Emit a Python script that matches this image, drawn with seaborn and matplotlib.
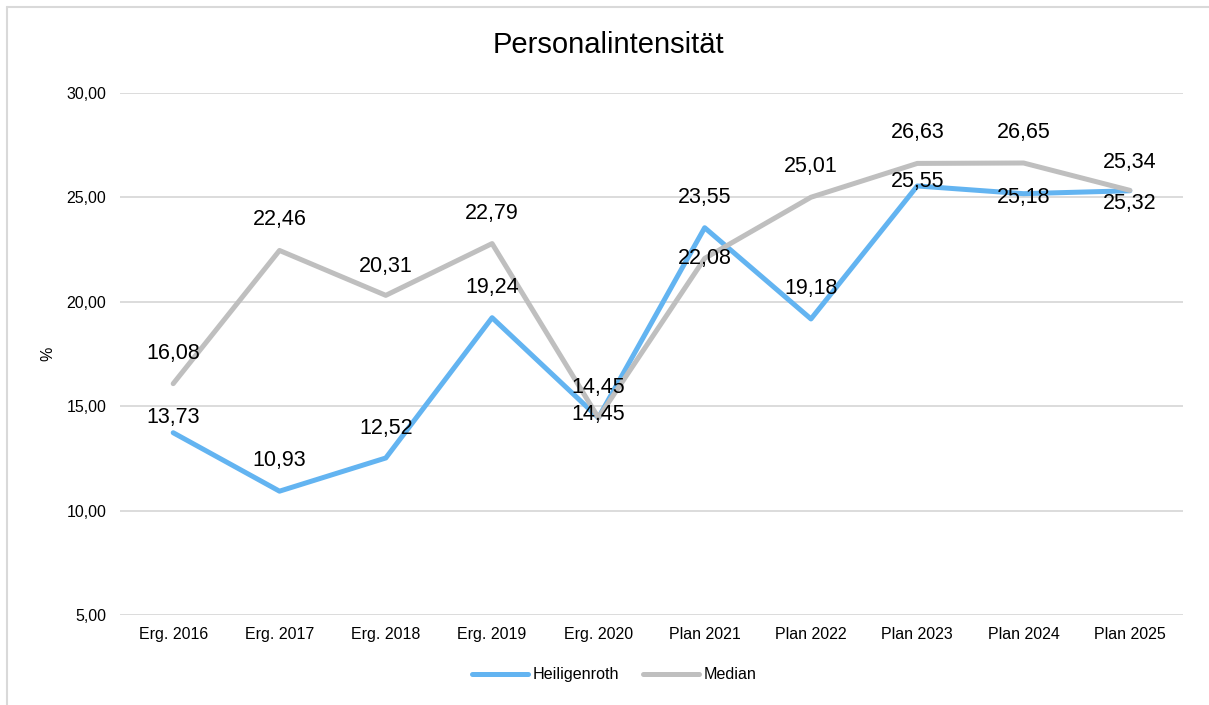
import pandas as pd
import seaborn as sns
import matplotlib.pyplot as plt
from matplotlib.lines import Line2D

# Werte aus dem Diagramm
jahre = ['Erg. 2016', 'Erg. 2017', 'Erg. 2018', 'Erg. 2019', 'Erg. 2020',
         'Plan 2021', 'Plan 2022', 'Plan 2023', 'Plan 2024', 'Plan 2025']
heiligenroth = [13.73, 10.93, 12.52, 19.24, 14.45, 23.55, 19.18, 25.55, 25.18, 25.32]
median = [16.08, 22.46, 20.31, 22.79, 14.45, 22.08, 25.01, 26.63, 26.65, 25.34]

# Versatz der Beschriftungen in Punkt (wie Excel sie verschoben hat)
off_h = [11, 22, 21, 22, 2, 22, 22, 3, -3, -9]
off_m = [22, 22, 21, 22, 22, 0, 22, 22, 22, 20]

df = pd.DataFrame({
    'Jahr': jahre * 2,
    'Wert': heiligenroth + median,
    'Reihe': ['Heiligenroth'] * len(jahre) + ['Median'] * len(jahre),
})

sns.set_style('white')
plt.rcParams['font.family'] = ['Liberation Sans', 'DejaVu Sans']
plt.rcParams['text.color'] = 'black'

fig = plt.figure(figsize=(12.09, 7.05), dpi=100)
ax = fig.add_axes([0.0993, 0.1277, 0.8792, 0.7403])

farben = {'Heiligenroth': '#63B4F1', 'Median': '#BFBFBF'}
sns.lineplot(data=df, x='Jahr', y='Wert', hue='Reihe', palette=farben,
             linewidth=3.6, sort=False, ax=ax, legend=True,
             solid_capstyle='round')

# Datenbeschriftungen
for i, (h, m) in enumerate(zip(heiligenroth, median)):
    ax.annotate(f'{m:.2f}'.replace('.', ','), (i, m), xytext=(0, off_m[i]),
                textcoords='offset points', ha='center', va='center', fontsize=15.5)
    ax.annotate(f'{h:.2f}'.replace('.', ','), (i, h), xytext=(0, off_h[i]),
                textcoords='offset points', ha='center', va='center', fontsize=15.5)

ax.set_ylim(5, 30)
ax.set_xlim(-0.5, len(jahre) - 0.5)
ax.set_yticks([5, 10, 15, 20, 25, 30])
ax.set_yticklabels([f'{v:.2f}'.replace('.', ',') for v in [5, 10, 15, 20, 25, 30]])
ax.yaxis.grid(True, color='#D9D9D9', linewidth=1.3)
ax.set_axisbelow(True)
for s in ax.spines.values():
    s.set_visible(False)
ax.tick_params(axis='both', length=0, labelsize=11.5, colors='black')
ax.tick_params(axis='x', pad=9)
ax.tick_params(axis='y', pad=10)
ax.set_xlabel('')
ax.set_ylabel('%', fontsize=11.5, labelpad=8, color='black')

# Titel mittig über dem ganzen Diagramm
fig.text(608 / 1209, 1 - 45 / 705, 'Personalintensität', fontsize=21,
         ha='center', va='center', color='black')

handles, labels = ax.get_legend_handles_labels()
ax.get_legend().remove()
for hd in handles:
    hd.set_solid_capstyle('round')
fig.legend(handles, labels, loc='center', bbox_to_anchor=(0.508, 0.0426), ncol=2,
           frameon=False, fontsize=11.6, handlelength=3.5, handletextpad=0.25,
           columnspacing=1.5)

# Rahmen des Diagrammbereichs (links und oben sichtbar)
x0, y0 = 7 / 1209, 1 - 7 / 705
fig.lines.append(Line2D([x0, x0], [0, y0], transform=fig.transFigure,
                        color='#D9D9D9', linewidth=1.5))
fig.lines.append(Line2D([x0, 1], [y0, y0], transform=fig.transFigure,
                        color='#D9D9D9', linewidth=1.5))

fig.savefig('out.png', dpi=100)
